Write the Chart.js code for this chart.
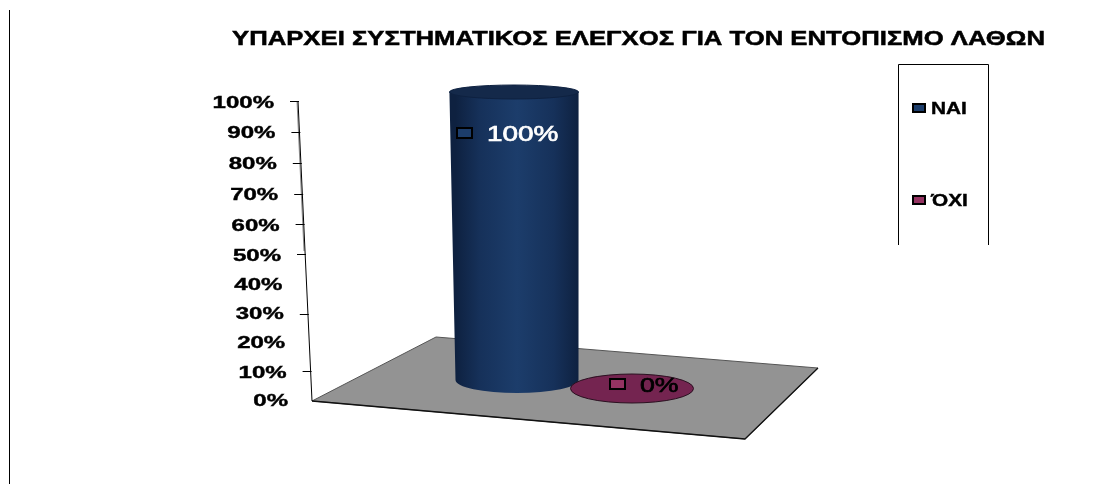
<!DOCTYPE html>
<html>
<head>
<meta charset="utf-8">
<title>Έλεγχος λαθών</title>
<script src="https://cdn.jsdelivr.net/npm/chart.js@4"></script>
<style>
    html, body { margin: 0; padding: 0; background: #fff; }
    #wrap { width: 1114px; height: 484px; position: relative; }
</style>
</head>
<body>
<div id="wrap"><canvas id="grafico"></canvas></div>
<script>
// Dados do gráfico
const titulo = 'ΥΠΑΡΧΕΙ ΣΥΣΤΗΜΑΤΙΚΟΣ ΕΛΕΓΧΟΣ ΓΙΑ ΤΟΝ ΕΝΤΟΠΙΣΜΟ ΛΑΘΩΝ';
const categorias = ['ΝΑΙ', 'ΌΧΙ'];
const valores = [100, 0];
const marcasY = [0, 10, 20, 30, 40, 50, 60, 70, 80, 90, 100];

// Correção de perspectiva do eixo inclinado, na ordem de marcasY
const ajusteTraco = [0, 0, 3, 3, 3, 3, 3, 3, 2, 1, 0];
const ajusteRotulo = [1, 3, 3, 4, 5, 6, 6, 5, 4, 3, 2.5];
const semTraco = [0, 20, 40];

// Cores: borda, centro, tampo e quadradinho da legenda de cada categoria
const coresBorda = ['#0e2140', '#742450'];
const coresCentro = ['#1c3d6b', '#742450'];
const coresTampo = ['#14294a', '#742450'];
const coresChave = ['#1c3d6b', '#953362'];
const coresRotulo = ['#ffffff', '#000000'];

// Deslocamento do rótulo de cada cilindro em relação ao centro da base
const rotuloChaveDx = [-60, -22];
const rotuloTextoDx = [-30, 8];
const rotuloDy = [-247, -4.5];
const rotuloTamanho = [22, 21];

const fonte = '"Liberation Sans", Arial, sans-serif';

// Texto esticado na horizontal, como nos gráficos 3D exportados
function textoEsticado(ctx, texto, x, y, opcoes) {
    ctx.save();
    ctx.font = `${opcoes.peso || 'bold'} ${opcoes.tamanho}px ${fonte}`;
    ctx.fillStyle = opcoes.cor || '#000';
    ctx.textBaseline = 'middle';
    ctx.textAlign = opcoes.alinhar || 'left';
    ctx.translate(x, y);
    ctx.scale(opcoes.esticar, 1);
    ctx.fillText(texto, 0, 0);
    if (opcoes.reforco) {
        ctx.strokeStyle = opcoes.cor || '#000';
        ctx.lineWidth = opcoes.reforco;
        ctx.strokeText(texto, 0, 0);
    }
    ctx.restore();
}

function chaveCor(ctx, x, y, w, h, cor) {
    ctx.fillStyle = cor;
    ctx.strokeStyle = '#000';
    ctx.lineWidth = 2;
    ctx.fillRect(x, y, w, h);
    ctx.strokeRect(x, y, w, h);
}

// Linha do piso onde os cilindros ficam assentados
function linhaPiso(yZero, x) {
    return yZero - 21 + (x - 517) * 0.074;
}

const pluginCena = {
    id: 'cena3d',

    beforeDatasetsDraw(chart) {
        const ctx = chart.ctx;
        const y = chart.scales.y;
        const y0 = y.getPixelForValue(0);
        const x0 = 312;

        // linha vertical à esquerda
        ctx.strokeStyle = '#000';
        ctx.lineWidth = 1;
        ctx.beginPath();
        ctx.moveTo(9.5, 10);
        ctx.lineTo(9.5, 484);
        ctx.stroke();

        // título
        ctx.font = `bold 20px ${fonte}`;
        const esticarTitulo = 813 / ctx.measureText(titulo).width;
        textoEsticado(ctx, titulo, 232, 39.5, { tamanho: 20, esticar: esticarTitulo, reforco: 0.5 });

        // piso
        const piso = [[0, 0], [124, -64], [506, -33], [433, 38]];
        ctx.fillStyle = '#939393';
        ctx.strokeStyle = '#555';
        ctx.lineWidth = 1;
        ctx.beginPath();
        piso.forEach(([dx, dy]) => ctx.lineTo(x0 + dx, y0 + dy));
        ctx.closePath();
        ctx.fill();
        ctx.stroke();
        // aresta direita mais escura
        ctx.strokeStyle = '#111';
        ctx.lineWidth = 1.3;
        ctx.beginPath();
        ctx.moveTo(x0 + piso[2][0], y0 + piso[2][1]);
        ctx.lineTo(x0 + piso[3][0], y0 + piso[3][1]);
        ctx.lineTo(x0, y0);
        ctx.stroke();

        // eixo inclinado, com sombra cinza e marcas
        const eixoX = v => x0 - 14 * v / 100;
        ctx.lineWidth = 1;
        ctx.strokeStyle = '#8a8a8a';
        ctx.beginPath();
        ctx.moveTo(eixoX(100) - 1, y.getPixelForValue(100));
        ctx.lineTo(eixoX(50) - 1, y.getPixelForValue(50));
        ctx.stroke();
        ctx.strokeStyle = '#000';
        ctx.beginPath();
        ctx.moveTo(eixoX(100), y.getPixelForValue(100));
        ctx.lineTo(x0, y0);
        ctx.stroke();

        marcasY.forEach((v, i) => {
            const py = y.getPixelForValue(v);
            const px = eixoX(v);
            if (!semTraco.includes(v)) {
                const yTraco = Math.round(py + ajusteTraco[i]) + 0.5;
                ctx.strokeStyle = '#000';
                ctx.lineWidth = 1;
                ctx.beginPath();
                ctx.moveTo(px - 8, yTraco);
                ctx.lineTo(px + 1, yTraco);
                ctx.stroke();
            }
            textoEsticado(ctx, v + '%', px - 24, py + ajusteRotulo[i], { tamanho: 16, esticar: 1.5, alinhar: 'right', reforco: 0.4 });
        });

        // legenda: caixa aberta embaixo
        ctx.strokeStyle = '#000';
        ctx.lineWidth = 1;
        ctx.beginPath();
        ctx.moveTo(898.5, 245);
        ctx.lineTo(898.5, 64.5);
        ctx.lineTo(988.5, 64.5);
        ctx.lineTo(988.5, 245);
        ctx.stroke();
        categorias.forEach((nome, i) => {
            const ly = 108 + i * 92;
            chaveCor(ctx, 913, ly - 4, 12, 8, coresChave[i]);
            textoEsticado(ctx, nome, 931, ly + 2, { tamanho: 16, esticar: 1.3, reforco: 0.4 });
        });
    },

    afterDatasetsDraw(chart) {
        const ctx = chart.ctx;
        const meta = chart.getDatasetMeta(0);
        const y0 = chart.scales.y.getPixelForValue(0);

        meta.data.forEach((barra, i) => {
            const baseY = linhaPiso(y0, barra.x);
            const altura = (barra.base - barra.y) * 0.96;
            const topoY = baseY - altura;
            const frac = valores[i] / 100;
            const rxBase = barra.width / 2;
            const rxTopo = rxBase * (1 + 0.05 * frac);
            const xTopo = barra.x - 3 * frac;
            const ryBase = i === 0 ? 13 : 14.5;
            const ryTopo = ryBase - 6 * frac;

            if (altura > 0) {
                const grad = ctx.createLinearGradient(barra.x - rxBase, 0, barra.x + rxBase, 0);
                grad.addColorStop(0, coresBorda[i]);
                grad.addColorStop(0.2, '#16315a');
                grad.addColorStop(0.5, coresCentro[i]);
                grad.addColorStop(0.8, '#16315a');
                grad.addColorStop(1, coresBorda[i]);
                ctx.fillStyle = grad;
                ctx.beginPath();
                ctx.moveTo(xTopo - rxTopo, topoY);
                ctx.lineTo(barra.x - rxBase, baseY);
                ctx.ellipse(barra.x, baseY, rxBase, ryBase, 0, Math.PI, 0, true);
                ctx.lineTo(xTopo + rxTopo, topoY);
                ctx.closePath();
                ctx.fill();
            }

            // tampo do cilindro (ou disco, quando o valor é zero)
            ctx.fillStyle = coresTampo[i];
            ctx.strokeStyle = altura > 0 ? coresBorda[i] : '#2a1020';
            ctx.lineWidth = 1;
            ctx.beginPath();
            ctx.ellipse(xTopo, topoY, rxTopo, ryTopo, 0, 0, Math.PI * 2);
            ctx.fill();
            ctx.stroke();

            // rótulo de dados
            const ry = baseY + rotuloDy[i];
            chaveCor(ctx, barra.x + rotuloChaveDx[i], ry - 5, 15, 10, coresChave[i]);
            textoEsticado(ctx, valores[i] + '%', barra.x + rotuloTextoDx[i], ry + 2, {
                tamanho: rotuloTamanho[i], esticar: 1.27, peso: 'normal', cor: coresRotulo[i], reforco: 0.7
            });
        });
    }
};

new Chart(document.getElementById('grafico').getContext('2d'), {
    type: 'bar',
    data: {
        labels: categorias,
        datasets: [{
            label: 'Resposta',
            data: valores,
            backgroundColor: 'rgba(0,0,0,0)', // o cilindro é pintado pelo plugin
            barThickness: 123
        }]
    },
    options: {
        responsive: true,
        maintainAspectRatio: false,
        animation: false,
        layout: { padding: { left: 459.5, right: 424.5, top: 101, bottom: 83 } },
        scales: {
            x: { display: false },
            y: { display: false, min: 0, max: 100 }
        },
        plugins: {
            legend: { display: false },
            tooltip: { enabled: false }
        }
    },
    plugins: [pluginCena]
});
</script>
</body>
</html>
